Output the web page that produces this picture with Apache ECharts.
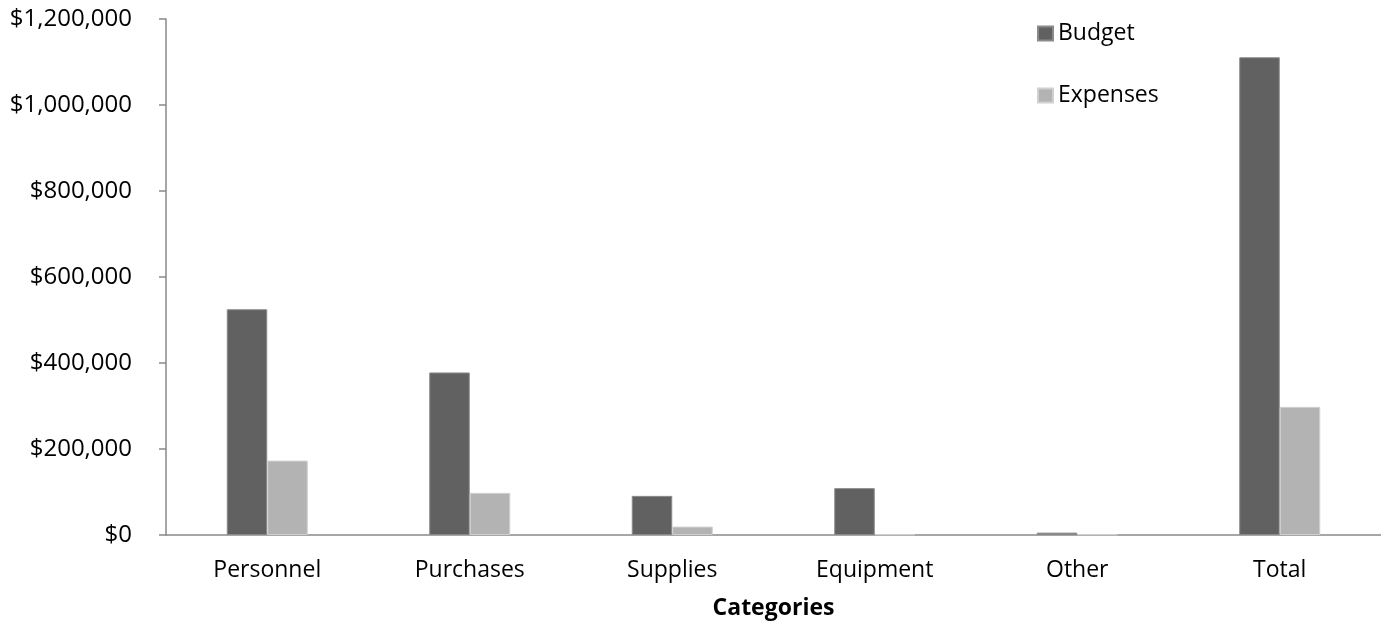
<!DOCTYPE html>
<html lang="en" style="height: 100%">
<head>
    <meta charset="UTF-8">
    <title>Budget vs Expenses</title>
    <script src="https://cdn.jsdelivr.net/npm/echarts@6/dist/echarts.min.js"></script>
</head>
<body style="height: 100%; margin: 0">
<div id="main" style="width: 1381px; height: 626px"></div>
<script>
    var categories = ['Personnel', 'Purchases', 'Supplies', 'Equipment', 'Other', 'Total'];
    var budget = [525000, 378000, 91000, 109000, 5500, 1111000];
    var expenses = [173000, 98000, 19500, 1500, 1500, 298000];
    var yTicks = { min: 0, max: 1200000, interval: 200000 };

    var font = '"Open Sans", sans-serif';
    var axisColor = '#898989';

    var myoption = {
        animation: false,
        textStyle: { fontFamily: font },
        legend: {
            orient: 'vertical',
            left: 1032,
            top: 17,
            icon: 'rect',
            itemWidth: 15,
            itemHeight: 14,
            itemGap: 39,
            textStyle: { fontSize: 23, color: '#000', fontFamily: font },
            data: ['Budget', 'Expenses']
        },
        grid: {
            left: 166,
            right: -15,
            top: 19,
            bottom: 91
        },
        xAxis: [{
            type: 'category',
            data: categories,
            name: 'Categories',
            nameLocation: 'middle',
            nameGap: 62,
            nameTextStyle: { fontSize: 23, fontWeight: 'bold', color: '#000', fontFamily: font },
            axisLine: { lineStyle: { color: axisColor, width: 1.5 } },
            axisTick: { length: 9, lineStyle: { color: axisColor, width: 1.5 } },
            axisLabel: { fontSize: 23, color: '#000', margin: 24, fontFamily: font }
        }],
        yAxis: [{
            type: 'value',
            min: yTicks.min,
            max: yTicks.max,
            interval: yTicks.interval,
            splitLine: { show: false },
            axisLine: { show: true, lineStyle: { color: axisColor, width: 1.5 } },
            axisTick: { show: true, inside: false, length: 7, lineStyle: { color: axisColor, width: 1.5 } },
            axisLabel: {
                fontSize: 24, color: '#000', margin: 34, fontFamily: font,
                formatter: function (v) { return '$' + v.toLocaleString('en-US'); }
            }
        }],
        series: [
            {
                name: 'Budget',
                type: 'bar',
                data: budget,
                barGap: '0%',
                barCategoryGap: '60%',
                itemStyle: { color: '#616161', borderColor: '#8a8a8a', borderWidth: 1 }
            },
            {
                name: 'Expenses',
                type: 'bar',
                data: expenses,
                itemStyle: { color: '#b3b3b3', borderColor: '#d0d0d0', borderWidth: 1 }
            }
        ]
    };
    var myChart = echarts.init(document.getElementById('main'));
    myChart.setOption(myoption);
</script>
</body>
</html>
